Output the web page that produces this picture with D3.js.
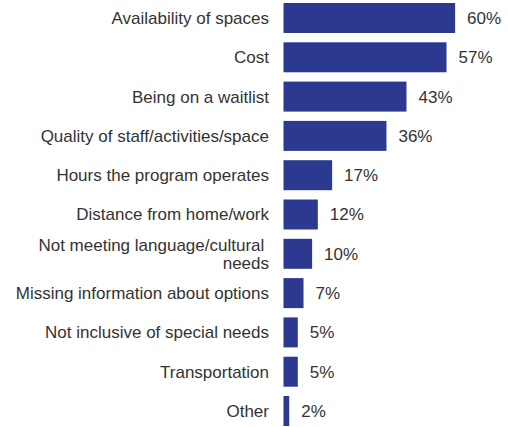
<!DOCTYPE html>
<html>
<head>
<meta charset="utf-8">
<script src="https://cdn.jsdelivr.net/npm/d3@7"></script>
<style>
  body { margin: 0; background: #fff; }
  text { font-family: "Liberation Sans", Arial, sans-serif; fill: #333; }
</style>
</head>
<body>
<div id="chart"></div>
<script>
const categories = [
  'Availability of spaces',
  'Cost',
  'Being on a waitlist',
  'Quality of staff/activities/space',
  'Hours the program operates',
  'Distance from home/work',
  'Not meeting language/cultural needs',
  'Missing information about options',
  'Not inclusive of special needs',
  'Transportation',
  'Other'
];
const values = [60, 57, 43, 36, 17, 12, 10, 7, 5, 5, 2];
// multi-line labels
const labelLines = {
  'Not meeting language/cultural needs': ['Not meeting language/cultural ', 'needs']
};

const W = 508, H = 427;
const margin = { t: 3, r: 0, b: 1, l: 283.5 };
const barH = 30;

const svg = d3.select('#chart').append('svg')
  .attr('width', W)
  .attr('height', H);

const x = d3.scaleLinear().domain([0, 100]).range([margin.l, margin.l + 286]);
const y = d3.scaleBand().domain(categories)
  .range([margin.t, H - margin.b])
  .paddingInner(0.237)
  .paddingOuter(0);

svg.selectAll('.bar')
  .data(categories)
  .enter().append('rect')
  .attr('class', 'bar')
  .attr('x', x(0))
  .attr('y', d => y(d))
  .attr('width', (d, i) => x(values[i]) - x(0))
  .attr('height', y.bandwidth())
  .attr('fill', '#2b3990');

svg.selectAll('.val')
  .data(categories)
  .enter().append('text')
  .attr('class', 'val')
  .attr('x', (d, i) => x(values[i]) + 12)
  .attr('y', d => y(d) + y.bandwidth() / 2)
  .attr('dy', '0.35em')
  .style('font-size', '17px')
  .text((d, i) => values[i] + '%');

const labels = svg.selectAll('.lab')
  .data(categories)
  .enter().append('text')
  .attr('class', 'lab')
  .attr('text-anchor', 'end')
  .style('font-size', '17px')
  .style('white-space', 'pre')
  .attr('xml:space', 'preserve');

labels.each(function(d) {
  const lines = labelLines[d] || [d];
  const t = d3.select(this);
  const cy = y(d) + y.bandwidth() / 2;
  lines.forEach((ln, k) => {
    t.append('tspan')
      .attr('x', 269)
      .attr('y', cy + (k - (lines.length - 1) / 2) * 18)
      .attr('dy', '0.35em')
      .text(ln);
  });
});
</script>
</body>
</html>
